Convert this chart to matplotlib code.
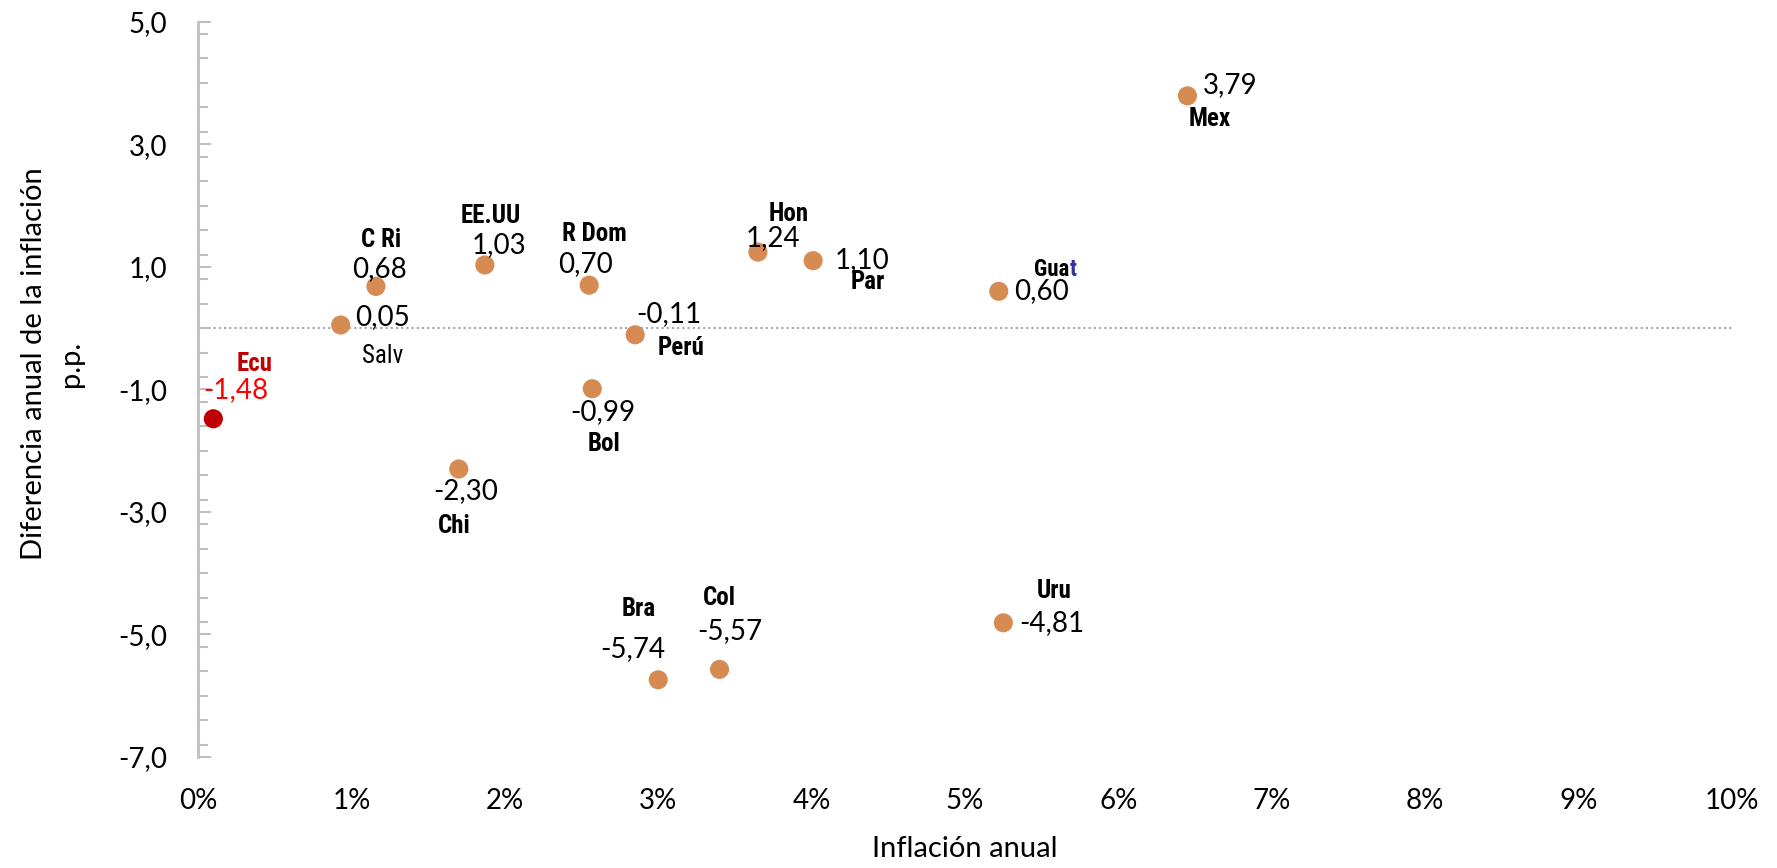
import matplotlib
matplotlib.use("Agg")
import matplotlib.pyplot as plt
from matplotlib import font_manager as fm
from matplotlib.ticker import FuncFormatter, MultipleLocator

# data
countries = ["Ecu", "Salv", "C Ri", "EE.UU", "R Dom", "Perú", "Bol", "Chi",
             "Bra", "Col", "Uru", "Hon", "Par", "Guat", "Mex"]
inflation = [0.10, 0.93, 1.16, 1.87, 2.55, 2.85, 2.57, 1.70,
             3.00, 3.40, 5.25, 3.65, 4.01, 5.22, 6.45]
diff_pp = [-1.48, 0.05, 0.68, 1.03, 0.70, -0.11, -0.99, -2.30,
           -5.74, -5.57, -4.81, 1.24, 1.10, 0.60, 3.79]
xticks = list(range(0, 11))
yticks = [5, 3, 1, -1, -3, -5, -7]

# label offsets in pixels: (value label), (name label)
val_off = {"Ecu": (22, 29), "Salv": (42, 8), "C Ri": (4, 17), "EE.UU": (14, 20),
           "R Dom": (-4, 21), "Perú": (34, 21), "Bol": (11, -23), "Chi": (7, -22),
           "Bra": (-25, 31), "Col": (10, 38), "Uru": (48, 0), "Hon": (15, 14),
           "Par": (49, 1), "Guat": (43, 0), "Mex": (43, 11)}
name_off = {"Ecu": (41, 55), "Salv": (42, -31), "C Ri": (5, 46), "EE.UU": (6, 49),
            "R Dom": (5, 51), "Perú": (46, -13), "Bol": (12, -55), "Chi": (-5, -57),
            "Bra": (-20, 71), "Col": (0, 71), "Uru": (51, 32), "Hon": (31, 38),
            "Par": (55, -21), "Mex": (22, -23)}


def have(name):
    try:
        fm.findfont(fm.FontProperties(family=name), fallback_to_default=False)
        return True
    except ValueError:
        return False


num_font = ["Lato", "DejaVu Sans"]
name_font, name_size = ["Liberation Sans", "DejaVu Sans"], 15.5
for fam, size in [("Liberation Sans Narrow", 17), ("Roboto Condensed", 18),
                  ("Open Sans Condensed", 17), ("DejaVu Sans Condensed", 16)]:
    if have(fam):
        name_font, name_size = [fam], size
        break

orange = "#D68B52"
grey = "#BFBFBF"

fig = plt.figure(figsize=(17.77, 8.68), dpi=100)
ax = fig.add_axes([198 / 1777, 1 - 757 / 868, (1732 - 198) / 1777, (757 - 21.7) / 868])

colors = ["#C00000" if c == "Ecu" else orange for c in countries]
ax.axhline(0, color="#A6A6A6", lw=1.5, ls=(0, (1, 1.5)), zorder=1)
ax.scatter(inflation, diff_pp, s=190, c=colors, zorder=3, linewidths=0)

for c, x, y in zip(countries, inflation, diff_pp):
    txt = f"{y:.2f}".replace(".", ",")
    col = "#FF0000" if c == "Ecu" else "black"
    ax.annotate(txt, (x, y), xytext=val_off[c], textcoords="offset pixels",
                ha="center", va="center", fontsize=20, family=num_font, color=col)
    if c == "Guat":
        ax.annotate("Gua", (x, y), xytext=(71, 22), textcoords="offset pixels",
                    ha="right", va="center", fontsize=name_size - 1.5,
                    fontweight="bold", family=name_font)
        ax.annotate("t", (x, y), xytext=(71, 22), textcoords="offset pixels",
                    ha="left", va="center", fontsize=name_size - 1.5,
                    fontweight="bold", family=name_font, color="#3333A0")
        continue
    weight = "normal" if c == "Salv" else "bold"
    ncol = "#C00000" if c == "Ecu" else "black"
    ax.annotate(c, (x, y), xytext=name_off[c], textcoords="offset pixels",
                ha="center", va="center", fontsize=name_size, fontweight=weight,
                family=name_font, color=ncol)

ax.set_xlim(0, 10)
ax.set_ylim(-7, 5)
ax.set_xticks(xticks)
ax.set_yticks(yticks)
ax.yaxis.set_minor_locator(MultipleLocator(0.4))
ax.xaxis.set_major_formatter(FuncFormatter(lambda v, p: f"{v:.0f}%"))
ax.yaxis.set_major_formatter(FuncFormatter(lambda v, p: f"{v:.1f}".replace(".", ",")))

for s in ["top", "right", "bottom"]:
    ax.spines[s].set_visible(False)
ax.spines["left"].set_color(grey)
ax.spines["left"].set_linewidth(2)
ax.tick_params(axis="y", which="both", direction="in", color=grey, width=1.5, pad=22)
ax.tick_params(axis="y", which="major", length=9)
ax.tick_params(axis="y", which="minor", length=7)
ax.tick_params(axis="x", length=0, pad=22)
for lab in ax.get_xticklabels() + ax.get_yticklabels():
    lab.set_family(num_font)
    lab.set_fontsize(20)

ax.set_xlabel("Inflación anual", fontsize=21, family=num_font, labelpad=16)
ax.set_ylabel("Diferencia anual de la inflación\np.p.", fontsize=21, family=num_font,
              linespacing=1.5)
ax.yaxis.set_label_coords((84 - 198) / 1534, 0.535)

fig.savefig("out.png", dpi=100)
